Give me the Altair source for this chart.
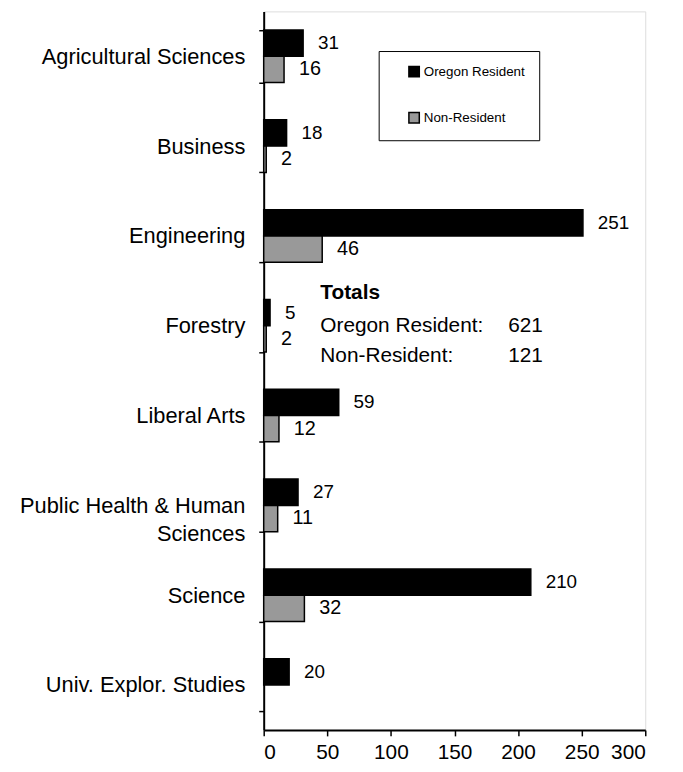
import altair as alt
import pandas as pd

categories = [
    "Agricultural Sciences",
    "Business",
    "Engineering",
    "Forestry",
    "Liberal Arts",
    "Public Health & Human Sciences",
    "Science",
    "Univ. Explor. Studies",
]
series = ["Oregon Resident", "Non-Resident"]
oregon_resident = [31, 18, 251, 5, 59, 27, 210, 20]
non_resident = [16, 2, 46, 2, 12, 11, 32, None]
x_ticks = [0, 50, 100, 150, 200, 250, 300]

rows = []
for c, o, n in zip(categories, oregon_resident, non_resident):
    rows.append({"category": c, "series": series[0], "value": o})
    if n is not None:
        rows.append({"category": c, "series": series[1], "value": n})
df = pd.DataFrame(rows)

tot_o = sum(oregon_resident)
tot_n = sum(v for v in non_resident if v is not None)

FONT = "Liberation Sans"

y_enc = alt.Y(
    "category:N",
    sort=categories,
    scale=alt.Scale(paddingInner=0.415, paddingOuter=0.2075),
    axis=alt.Axis(
        title=None,
        labelFont=FONT,
        labelFontSize=22,
        labelColor="black",
        labelPadding=14,
        labelLimit=0,
        labelLineHeight=28,
        labelExpr="datum.label == 'Public Health & Human Sciences' ? ['Public Health & Human', 'Sciences'] : datum.label",
        tickBand="extent",
        tickSize=5,
        tickColor="black",
        tickWidth=1.5,
        domainColor="black",
        domainWidth=2,
    ),
)
x_enc = alt.X(
    "value:Q",
    scale=alt.Scale(domain=[0, 300], nice=False),
    axis=alt.Axis(
        title=None,
        values=x_ticks,
        grid=False,
        labelFont=FONT,
        labelFontSize=21,
        labelColor="black",
        labelPadding=6,
        tickSize=6,
        tickColor="black",
        tickWidth=1.5,
        domainColor="black",
        domainWidth=2,
    ),
)
yoff = alt.YOffset("series:N", sort=series, scale=alt.Scale(domain=series, paddingInner=0, paddingOuter=0))

base = alt.Chart(df)

bars = base.mark_bar(stroke="black", strokeWidth=1.5).encode(
    y=y_enc,
    x=x_enc,
    yOffset=yoff,
    color=alt.Color(
        "series:N",
        sort=series,
        scale=alt.Scale(domain=series, range=["black", "#999999"]),
        legend=alt.Legend(
            title=None,
            orient="none",
            legendX=116,
            legendY=40,
            strokeColor="black",
            padding=14,
            symbolOffset=15,
            symbolType="square",
            symbolSize=110,
            symbolStrokeColor="black",
            symbolStrokeWidth=1.5,
            labelFont=FONT,
            labelFontSize=13.5,
            labelOffset=3,
            labelColor="black",
            rowPadding=29.5,
            labelExpr="datum.label + '\u00a0\u00a0\u00a0\u00a0'",
        ),
    ),
)

lab_o = base.transform_filter(alt.datum.series == series[0]).mark_text(
    align="left", baseline="middle", dx=15, font=FONT, fontSize=19, color="black"
).encode(y=alt.Y("category:N", sort=categories), x="value:Q", yOffset=yoff, text="value:Q")

lab_n = base.transform_filter(alt.datum.series == series[1]).mark_text(
    align="left", baseline="middle", dx=15, font=FONT, fontSize=20, color="black"
).encode(y=alt.Y("category:N", sort=categories), x="value:Q", yOffset=yoff, text="value:Q")

tot_df = pd.DataFrame(
    {
        "category": ["Forestry"] * 3,
        "label": ["Totals", "Oregon Resident:", "Non-Resident:"],
        "num": ["", str(tot_o), str(tot_n)],
        "row": [0, 1, 2],
    }
)
tot_layers = []
dys = [-33, 0, 31]
for i in range(3):
    d = tot_df[tot_df.row == i]
    tl = alt.Chart(d).mark_text(
        align="left", baseline="middle", dy=dys[i], font=FONT, fontSize=21,
        fontWeight="bold" if i == 0 else "normal", color="black",
    ).encode(y=alt.Y("category:N", sort=categories), x=alt.datum(44.5), text="label:N")
    tot_layers.append(tl)
    if i > 0:
        tn = alt.Chart(d).mark_text(
            align="right", baseline="middle", dy=dys[i], font=FONT, fontSize=21, color="black"
        ).encode(y=alt.Y("category:N", sort=categories), x=alt.datum(219.5), text="num:N")
        tot_layers.append(tn)

chart = alt.layer(bars, lab_o, lab_n, *tot_layers).properties(
    width=385,
    height=725,
    autosize=alt.AutoSizeParams(type="none"),
    padding={"left": 258, "top": 0, "right": 30, "bottom": 36},
).configure_view(stroke="black", strokeWidth=2).configure(background="white")

chart.save("out.html", embed_options={"renderer": "svg", "actions": False})
